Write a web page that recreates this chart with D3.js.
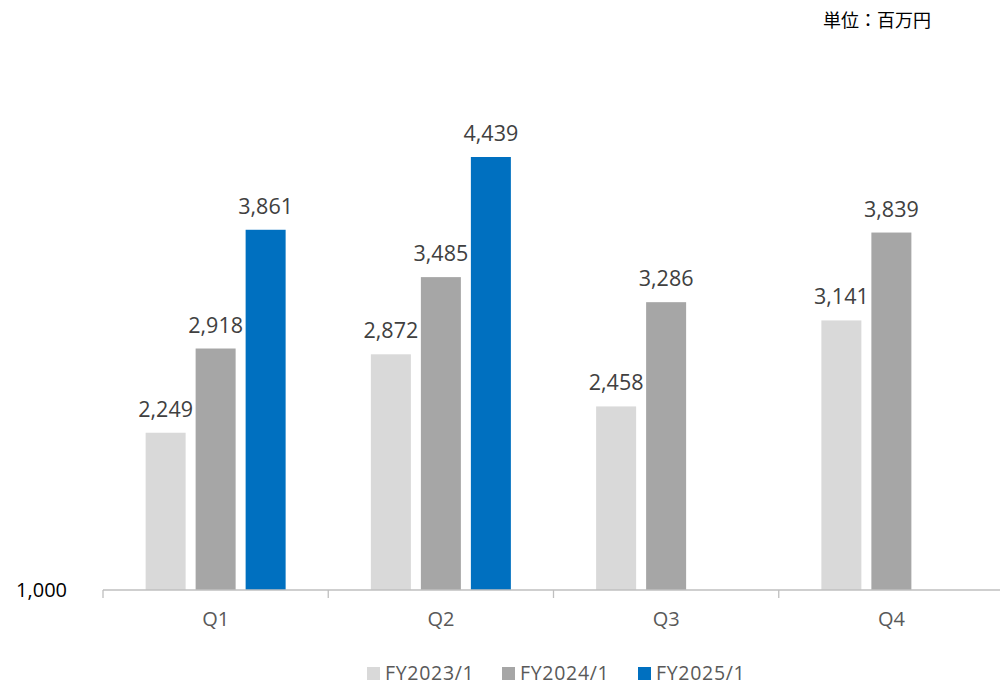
<!DOCTYPE html>
<html>
<head>
<meta charset="utf-8">
<script src="https://cdn.jsdelivr.net/npm/d3@7"></script>
<style>
  html, body { margin: 0; padding: 0; background: #fff; }
  svg { display: block; font-family: "Open Sans", "Noto Sans", "Noto Sans CJK JP", sans-serif; }
</style>
</head>
<body>
<svg id="chart" width="1002" height="685"></svg>
<script>
// quarterly figures, 百万円
const quarters = ["Q1", "Q2", "Q3", "Q4"];
const series = ["FY2023/1", "FY2024/1", "FY2025/1"];
const fy2023 = [2249, 2872, 2458, 3141];
const fy2024 = [2918, 3485, 3286, 3839];
const fy2025 = [3861, 4439, null, null];
const colors = ["#d9d9d9", "#a6a6a6", "#0070c0"];
const yTicks = [1000];

const values = [fy2023, fy2024, fy2025];
const svg = d3.select("#chart");

const x0 = d3.scaleBand().domain(quarters).range([103, 1004]);
const x1 = d3.scaleBand().domain(series).range([0, 140]).paddingInner(0.2);
const y = d3.scaleLinear().domain([1000, 4439]).range([590, 157]);

// bars
const rows = [];
series.forEach((s, i) => quarters.forEach((q, j) => {
  if (values[i][j] != null) rows.push({s, q, v: values[i][j], c: colors[i]});
}));
const gx = (d) => x0(d.q) + (x0.bandwidth() - 140) / 2 + x1(d.s);

svg.append("g").selectAll("rect").data(rows).join("rect")
  .attr("x", gx).attr("width", x1.bandwidth())
  .attr("y", (d) => y(d.v)).attr("height", (d) => y(1000) - y(d.v))
  .attr("fill", (d) => d.c);

svg.append("g").selectAll("text").data(rows).join("text")
  .attr("x", (d) => gx(d) + x1.bandwidth() / 2)
  .attr("y", (d) => y(d.v) - 16)
  .attr("text-anchor", "middle").attr("font-size", 21.5).attr("fill", "#404040")
  .text((d) => d3.format(",")(d.v));

// x axis
const ax = svg.append("g").attr("transform", `translate(0,${y(1000)})`)
  .call(d3.axisBottom(x0).tickSize(0).tickPadding(22));
ax.select(".domain").attr("stroke", "#bfbfbf").attr("stroke-width", 1.3)
  .attr("d", "M103,0H1000");
ax.selectAll("text").attr("font-size", 20).attr("fill", "#595959")
  .attr("font-family", "Open Sans, sans-serif");
// category separators
svg.append("g").selectAll("line").data(quarters).join("line")
  .attr("x1", (d) => x0(d)).attr("x2", (d) => x0(d))
  .attr("y1", y(1000)).attr("y2", y(1000) + 8)
  .attr("stroke", "#bfbfbf").attr("stroke-width", 1.3);

// y axis (only the baseline label)
svg.append("g").selectAll("text").data(yTicks).join("text")
  .attr("x", 67).attr("y", (d) => y(d)).attr("dy", "0.35em")
  .attr("text-anchor", "end").attr("font-size", 20).attr("fill", "#000")
  .text((d) => d3.format(",")(d));

// unit
svg.append("text").attr("x", 823).attr("y", 27).attr("font-size", 18)
  .attr("fill", "#000").attr("font-family", "Noto Sans CJK JP, sans-serif")
  .text("単位：百万円");

// legend
const lg = svg.append("g").selectAll("g").data(series).join("g")
  .attr("transform", (d, i) => `translate(${[367, 502, 638][i]},667)`);
lg.append("rect").attr("width", 13).attr("height", 13).attr("fill", (d, i) => colors[i]);
lg.append("text").attr("x", 18).attr("y", 13)
  .attr("font-size", 19.5).attr("letter-spacing", 0.7)
  .attr("fill", "#595959").text((d) => d);
</script>
</body>
</html>
